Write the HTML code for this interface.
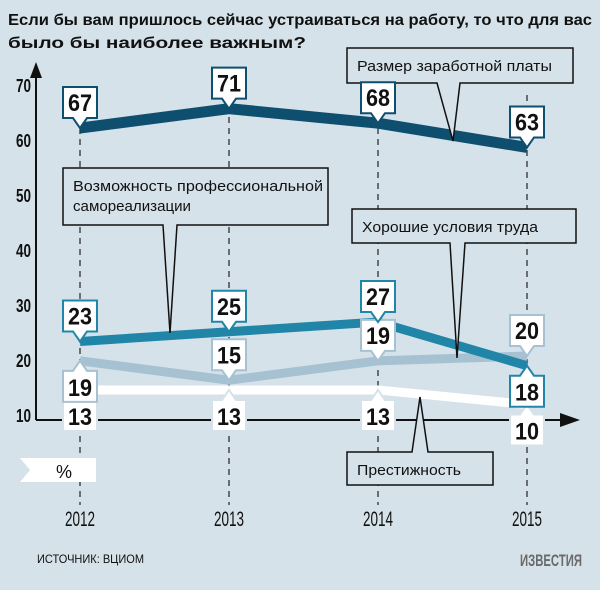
<!DOCTYPE html>
<html><head><meta charset="utf-8">
<style>
html,body{margin:0;padding:0;background:#d6e2ea;}
svg{display:block;font-family:"Liberation Sans",sans-serif;}
</style></head>
<body>
<svg id="chart" width="600" height="590" viewBox="0 0 600 590" xmlns="http://www.w3.org/2000/svg">
<rect width="600" height="590" fill="#d6e2ea"/>
<text x="8" y="25" font-size="16" font-weight="bold" fill="#111" textLength="584" lengthAdjust="spacingAndGlyphs">Если бы вам пришлось сейчас устраиваться на работу, то что для вас</text>
<text x="8" y="48" font-size="16" font-weight="bold" fill="#111" textLength="298" lengthAdjust="spacingAndGlyphs">было бы наиболее важным?</text>
<g id="grid"></g>
<g id="axes"></g>
<g id="series"></g>
<g id="callouts"></g>
<g id="labels"></g>
<path d="M20,458 L96,458 L96,482 L20,482 L30,470 Z" fill="#fff"/>
<text x="64" y="478" font-size="18" text-anchor="middle" fill="#111">%</text>
<text x="37" y="563" font-size="12" fill="#111" textLength="107" lengthAdjust="spacingAndGlyphs">ИСТОЧНИК: ВЦИОМ</text>
<text x="520" y="566" font-size="17" font-weight="bold" fill="#6a6a6a" textLength="62" lengthAdjust="spacingAndGlyphs">ИЗВЕСТИЯ</text>
</svg>
<script>
const years = ["2012","2013","2014","2015"];
const yTicks = [70,60,50,40,30,20,10];
const salary = [67,71,68,63];
const selfReal = [23,25,27,18];
const conditions = [19,15,19,20];
const prestige = [13,13,13,10];

const NS="http://www.w3.org/2000/svg";
function xPos(i){return 80+i*149;}
function yVal(v){return 453-4.85*v;}
function yTick(v){return 415-(v-10)*5.5;}
function mk(tag,attrs,parent){const e=document.createElementNS(NS,tag);for(const k in attrs)e.setAttribute(k,attrs[k]);parent.appendChild(e);return e;}
const grid=document.getElementById('grid'),axes=document.getElementById('axes'),ser=document.getElementById('series'),lab=document.getElementById('labels'),cal=document.getElementById('callouts');

years.forEach((y,i)=>{
  const l=mk('line',{x1:xPos(i),x2:xPos(i),y1:95,y2:505,stroke:'#222','stroke-width':1.2,'stroke-dasharray':'6,5'},grid);
  
  
  const t=mk('text',{x:xPos(i),y:526,'font-size':21,'text-anchor':'middle',fill:'#111',textLength:30,lengthAdjust:'spacingAndGlyphs'},axes);
  t.textContent=y;
  
  
});
yTicks.forEach(v=>{
  const t=mk('text',{x:31,y:yTick(v)+7,'font-size':18,'font-weight':'bold','text-anchor':'end',fill:'#111',textLength:15,lengthAdjust:'spacingAndGlyphs'},axes);
  t.textContent=v;
  
  
});
let a=mk('line',{x1:36,x2:36,y1:420,y2:75,stroke:'#111','stroke-width':2},axes);


a=mk('path',{d:'M30,78 L36,62 L42,78 Z',fill:'#111'},axes);


a=mk('line',{x1:36,x2:565,y1:420,y2:420,stroke:'#111','stroke-width':2},axes);


a=mk('path',{d:'M560,413 L580,420 L560,427 Z',fill:'#111'},axes);



const seriesDefs=[
 {name:'prestige',data:prestige,color:'#ffffff',border:'#d6e2ea',w:9,pos:['b','b','b','b']},
 {name:'conditions',data:conditions,color:'#a6c2d2',border:'#a6c2d2',w:9,pos:['b','a','a','a']},
 {name:'self-realization',data:selfReal,color:'#2185a8',border:'#2185a8',w:9,pos:['a','a','a','b']},
 {name:'salary',data:salary,color:'#0e4f70',border:'#0e4f70',w:11,pos:['a','a','a','a']}
];
seriesDefs.forEach(s=>{
  const pts=s.data.map((v,i)=>xPos(i)+','+yVal(v)).join(' ');
  const p=mk('polyline',{points:pts,fill:'none',stroke:s.color,'stroke-width':s.w,'stroke-linejoin':'miter'},ser);
  
  
});
seriesDefs.forEach(s=>{
  s.data.forEach((v,i)=>{
    const x=xPos(i),y=yVal(v),w=34,h=31;
    const g=mk('g',{},lab);
    
    
    let d;
    if(s.pos[i]==='a'){const b=y-10,t=b-h;d=`M${x-w/2},${t} H${x+w/2} V${b} H${x+7} L${x},${y} L${x-7},${b} H${x-w/2} Z`;}
    else{const t=y+10,b=t+h;d=`M${x-w/2},${t} H${x-7} L${x},${y} L${x+7},${t} H${x+w/2} V${b} H${x-w/2} Z`;}
    mk('path',{d:d,fill:'#fff',stroke:s.border,'stroke-width':2},g);
    const ty=s.pos[i]==='a'?y-17:y+35;
    const t=mk('text',{x:x,y:ty,'font-size':24,'font-weight':'bold','text-anchor':'middle',fill:'#111',textLength:24,lengthAdjust:'spacingAndGlyphs'},g);
    t.textContent=v;
  });
});
function callout(name,x1,y1,x2,y2,lines,px1,px2,tx,ty,up){
  const g=mk('g',{},cal);
  
  
  let d;
  if(!up)d=`M${x1},${y1} H${x2} V${y2} H${px2} L${tx},${ty} L${px1},${y2} H${x1} Z`;
  else d=`M${x1},${y1} H${px1} L${tx},${ty} L${px2},${y1} H${x2} V${y2} H${x1} Z`;
  mk('path',{d:d,fill:'#d6e2ea',stroke:'#111','stroke-width':1.5},g);
  lines.forEach((l,k)=>{const t=mk('text',{x:x1+10,y:y1+23+k*20,'font-size':15,fill:'#111',textLength:l[1],lengthAdjust:'spacingAndGlyphs'},g);t.textContent=l[0];});
}
callout('salary',347,48,573,83,[['Размер заработной платы',195]],437,460,453,141,false);
callout('self-realization',63,168,328,225,[['Возможность профессиональной',250],['самореализации',118]],163,177,170,333,false);
callout('conditions',352,209,576,243,[['Хорошие условия труда',176]],450,465,457,358,false);
callout('prestige',347,452,493,485,[['Престижность',104]],412,428,420,397,true);
</script>
</body></html>
